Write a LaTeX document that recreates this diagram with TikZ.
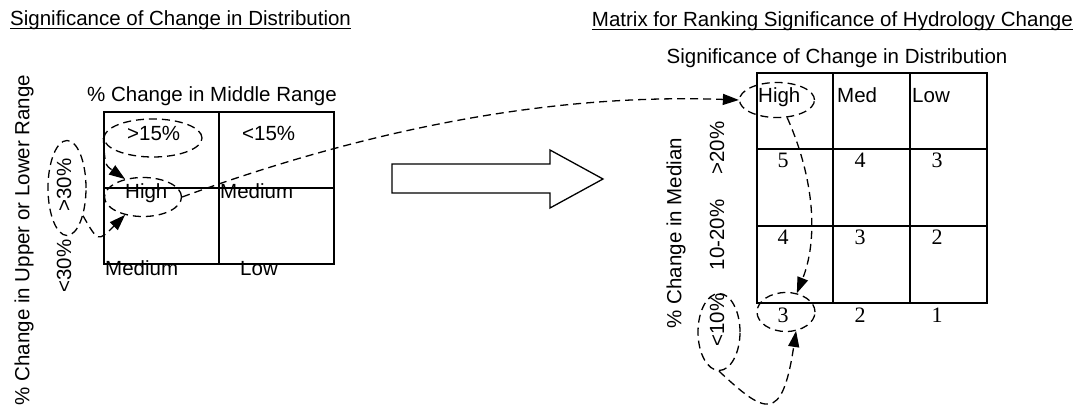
\documentclass[tikz,border=0pt]{standalone}
\usepackage{fontspec}
\setmainfont{Liberation Sans}
\newfontfamily\numfont{Liberation Serif}
\usetikzlibrary{arrows.meta, shapes.geometric}

\begin{document}
\begin{tikzpicture}[x=1pt, y=-1pt, font=\fontsize{20.5}{24}\selectfont, >={Triangle[length=16pt, width=11pt]}]
    \tikzstyle{lbl} = [inner sep=0pt, anchor=base west]
    \tikzstyle{vlbl} = [inner sep=0pt, rotate=90]
    \tikzstyle{num} = [inner sep=0pt, anchor=base, font=\numfont\fontsize{22}{26}\selectfont]
    \tikzstyle{ring} = [ellipse, draw, line width=1.3pt, dash pattern=on 8pt off 5pt, inner sep=0pt]
    \tikzstyle{gridline} = [line width=1.5pt]
    \tikzstyle{link} = [->, line width=1.3pt, dash pattern=on 8pt off 5pt]

    \useasboundingbox (0,0) rectangle (1083,411);

    % Titles (underlined)
    \node (titleL) [lbl] at (10,26) {Significance of Change in Distribution};
    \node (titleR) [inner sep=0pt, anchor=base east] at (1073,27) {Matrix for Ranking Significance of Hydrology Change};
    \draw [line width=1pt] ([yshift=-2.5pt]titleL.base west) -- ([yshift=-2.5pt]titleL.base east);
    \draw [line width=1pt] ([yshift=-2.5pt]titleR.base west) -- ([yshift=-2.5pt]titleR.base east);

    % Left table: middle range vs upper/lower range
    \draw [gridline] (104,112) rectangle (334,264);
    \draw [gridline] (219,112) -- (219,264);
    \draw [gridline] (104,188) -- (334,188);

    \node (midrange) [lbl] at (87,102) {\% Change in Middle Range};
    \node (ulrange)  [vlbl] at (24,240) {\% Change in Upper or Lower Range};
    \node (gt30)     [vlbl] at (64,185) {>30\%};
    \node (lt30)     [vlbl] at (64,266) {<30\%};
    \node (gt15)     [lbl] at (127,141) {>15\%};
    \node (lt15)     [lbl] at (242,141) {<15\%};
    \node (highL)    [lbl] at (125,199) {High};
    \node (medA)     [lbl] at (220,199) {Medium};
    \node (medB)     [lbl] at (105,276) {Medium};
    \node (lowL)     [lbl] at (240,276) {Low};

    \node (ring15)  [ring, minimum width=98pt, minimum height=38pt] at (153,138) {};
    \node (hiLring) [ring, minimum width=77pt, minimum height=39pt] at (143,197) {};
    \node (ring30)  [ring, minimum width=38pt, minimum height=95pt] at (67,188) {};

    % Big arrow between the two tables
    \draw [line width=1.3pt] (392,164) -- (550,164) -- (550,150) -- (603,179)
      -- (550,208) -- (550,193) -- (392,193) -- cycle;

    % Right matrix
    \draw [gridline] (757,73) rectangle (987,303);
    \draw [gridline] (833,73) -- (833,303);
    \draw [gridline] (910,73) -- (910,303);
    \draw [gridline] (757,149) -- (987,149);
    \draw [gridline] (757,226) -- (987,226);

    \node (distR)   [inner sep=0pt, anchor=base] at (837,64) {Significance of Change in Distribution};
    \node (median)  [vlbl] at (676,233) {\% Change in Median};
    \node (gt20)    [vlbl] at (717,148) {>20\%};
    \node (mid1020) [vlbl] at (717,235) {10-20\%};
    \node (lt10)    [vlbl] at (717,320) {<10\%};
    \node (highR)   [lbl] at (758,103) {High};
    \node (medR)    [lbl] at (837,103) {Med};
    \node (lowR)    [lbl] at (912,103) {Low};

    \node (n11) [num] at (783,168) {5};
    \node (n12) [num] at (860,168) {4};
    \node (n13) [num] at (937,168) {3};
    \node (n21) [num] at (783,245) {4};
    \node (n22) [num] at (860,245) {3};
    \node (n23) [num] at (937,245) {2};
    \node (n31) [num] at (783,322) {3};
    \node (n32) [num] at (860,322) {2};
    \node (n33) [num] at (937,322) {1};

    \node (hiRring) [ring, minimum width=75pt, minimum height=35pt] at (777,100) {};
    \node (ring3)   [ring, minimum width=58pt, minimum height=39pt] at (786,312) {};
    \node (ring10)  [ring, minimum width=42pt, minimum height=77pt] at (719,332) {};

    % Dashed links
    \draw [link] (ring15.west) .. controls (105,165) .. (hiLring.135);
    \draw [link] (ring30.-60) .. controls (98,242) .. (hiLring.-135);
    \draw [link] (hiLring.east) .. controls (420,110) and (600,95) .. (hiRring.west);
    \draw [link] (hiRring.-60) .. controls (815,180) and (818,240) .. (ring3.60);
    \draw [link] (ring10.south) .. controls (765,414) and (782,424) .. (ring3.-62);
\end{tikzpicture}
\end{document}
